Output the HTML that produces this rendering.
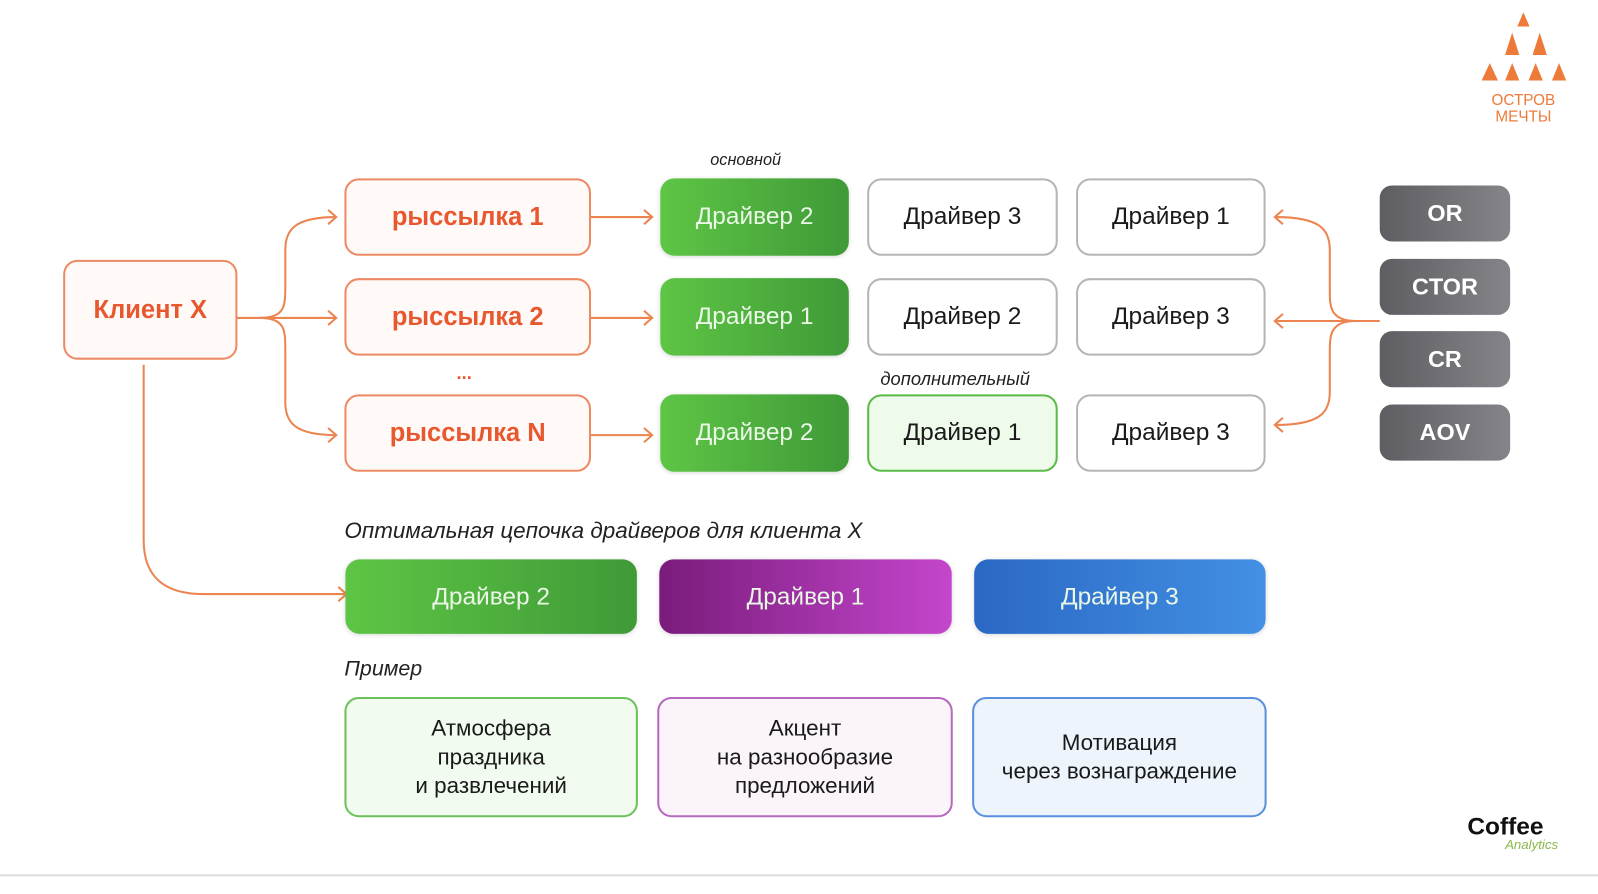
<!DOCTYPE html>
<html><head><meta charset="utf-8"><style>
body{margin:0;width:1598px;height:877px;background:#fff;position:relative;overflow:hidden;font-family:"Liberation Sans","DejaVu Sans",sans-serif}
#w{position:absolute;left:0;top:0;width:1568px;height:860px;transform:scale(1.019);transform-origin:0 0}
.b{position:absolute;box-sizing:border-box;display:flex;align-items:center;justify-content:center;text-align:center;border-radius:14px}
.r{border:2px solid #ec8a64;background:#fffaf7;color:#e8572e;font-weight:bold;font-size:25px}
.g{background:linear-gradient(90deg,#5ec545,#3f9a37);color:#eaf7e6;font-size:24px;box-shadow:0 1px 4px rgba(0,0,0,.15)}
.w{border:2px solid #b5b5b5;background:#fff;color:#1a1a1a;font-size:24px}
.m{background:linear-gradient(90deg,#5e5d62,#858489);color:#fff;font-weight:bold;font-size:23px;border-radius:12px}
.t{position:absolute;font-style:italic;color:#222}
.e{font-size:22px;color:#1a1a1a;line-height:28px;border-width:2px;border-style:solid}
</style></head><body><div id="w">
<svg width="1598" height="877" style="position:absolute;left:0;top:0" fill="none" stroke="#ec8450" stroke-width="2">
<path d="M233 312H330"/>
<path d="M255 312C280 312 280 300 280 280V245C280 225 290 213 330 213"/>
<path d="M255 312C280 312 280 324 280 344V395C280 415 290 427 330 427"/>
<path d="M322 206l8 7-8 7M322 305l8 7-8 7M322 420l8 7-8 7M332 576l8 7-8 7"/>
<path d="M141 358V530C141 565 160 583 200 583H338"/>
<path d="M580 213H640M580 312H640M580 427H640"/>
<path d="M632 206l8 7-8 7M632 305l8 7-8 7M632 420l8 7-8 7"/>
<path d="M1354 315H1252"/>
<path d="M1330 315C1305 315 1305 300 1305 285V245C1305 225 1295 213 1252 213"/>
<path d="M1330 315C1305 315 1305 330 1305 345V385C1305 405 1295 417 1252 417"/>
<path d="M1259 206l-8 7 8 7M1259 308l-8 7 8 7M1259 410l-8 7 8 7"/>
</svg>
<div class="b r" style="left:62px;top:255px;width:171px;height:98px">Клиент X</div>
<div class="b r" style="left:338px;top:175px;width:242px;height:76px">рыссылка 1</div>
<div class="b r" style="left:338px;top:273px;width:242px;height:76px">рыссылка 2</div>
<div class="b r" style="left:338px;top:387px;width:242px;height:76px">рыссылка N</div>
<div style="position:absolute;left:448px;top:356px;font-size:18px;color:#e8572e;font-weight:bold">...</div>
<div class="t" style="left:697px;top:149px;font-size:16px">основной</div>
<div class="t" style="left:864px;top:362px;font-size:18px">дополнительный</div>
<div class="b g" style="left:648px;top:175px;width:185px;height:76px">Драйвер 2</div>
<div class="b g" style="left:648px;top:273px;width:185px;height:76px">Драйвер 1</div>
<div class="b g" style="left:648px;top:387px;width:185px;height:76px">Драйвер 2</div>
<div class="b w" style="left:851px;top:175px;width:187px;height:76px">Драйвер 3</div>
<div class="b w" style="left:851px;top:273px;width:187px;height:76px">Драйвер 2</div>
<div class="b w" style="left:851px;top:387px;width:187px;height:76px;border-color:#5cba48;background:#eefaea">Драйвер 1</div>
<div class="b w" style="left:1056px;top:175px;width:186px;height:76px">Драйвер 1</div>
<div class="b w" style="left:1056px;top:273px;width:186px;height:76px">Драйвер 3</div>
<div class="b w" style="left:1056px;top:387px;width:186px;height:76px">Драйвер 3</div>
<div class="b m" style="left:1354px;top:182px;width:128px;height:55px">OR</div>
<div class="b m" style="left:1354px;top:254px;width:128px;height:55px">CTOR</div>
<div class="b m" style="left:1354px;top:325px;width:128px;height:55px">CR</div>
<div class="b m" style="left:1354px;top:397px;width:128px;height:55px">AOV</div>
<div class="t" style="left:338px;top:508px;font-size:22px">Оптимальная цепочка драйверов для клиента X</div>
<div class="b g" style="left:339px;top:549px;width:286px;height:73px">Драйвер 2</div>
<div class="b g" style="left:647px;top:549px;width:287px;height:73px;background:linear-gradient(90deg,#7a1c7c,#c446cc)">Драйвер 1</div>
<div class="b g" style="left:956px;top:549px;width:286px;height:73px;background:linear-gradient(90deg,#2a68c4,#4390e4)">Драйвер 3</div>
<div class="t" style="left:338px;top:645px;font-size:21px">Пример</div>
<div class="b e" style="left:338px;top:684px;width:288px;height:118px;border-color:#6cc25a;background:#f2fbf0">Атмосфера<br>праздника<br>и развлечений</div>
<div class="b e" style="left:645px;top:684px;width:290px;height:118px;border-color:#b56abd;background:#fbf4fb">Акцент<br>на разнообразие<br>предложений</div>
<div class="b e" style="left:954px;top:684px;width:289px;height:118px;border-color:#5a90dc;background:#eef4fc">Мотивация<br>через вознаграждение</div>
<svg width="90" height="75" style="position:absolute;left:1450px;top:10px" fill="#ee7a3a">
<polygon points="45,2 39,16 51,16"/><polygon points="34,22 27,44 41,44"/><polygon points="61,22 54,44 68,44"/>
<polygon points="12,52 4,69 20,69"/><polygon points="34,52 27,69 41,69"/><polygon points="57,52 50,69 64,69"/><polygon points="80,52 73,69 87,69"/>
</svg>
<div style="position:absolute;left:1455px;top:91px;width:80px;text-align:center;color:#ee7a3a;font-size:15px;line-height:16px">ОСТРОВ<br>МЕЧТЫ</div>
<div style="position:absolute;left:1440px;top:798px;font-size:24px;font-weight:bold;color:#111">Coffee</div>
<div style="position:absolute;left:1477px;top:821px;font-size:13px;font-style:italic;color:#8ab84a">Analytics</div>
<div style="position:absolute;left:0;top:858px;width:1598px;height:2px;background:#ddd"></div>
</div></body></html>
